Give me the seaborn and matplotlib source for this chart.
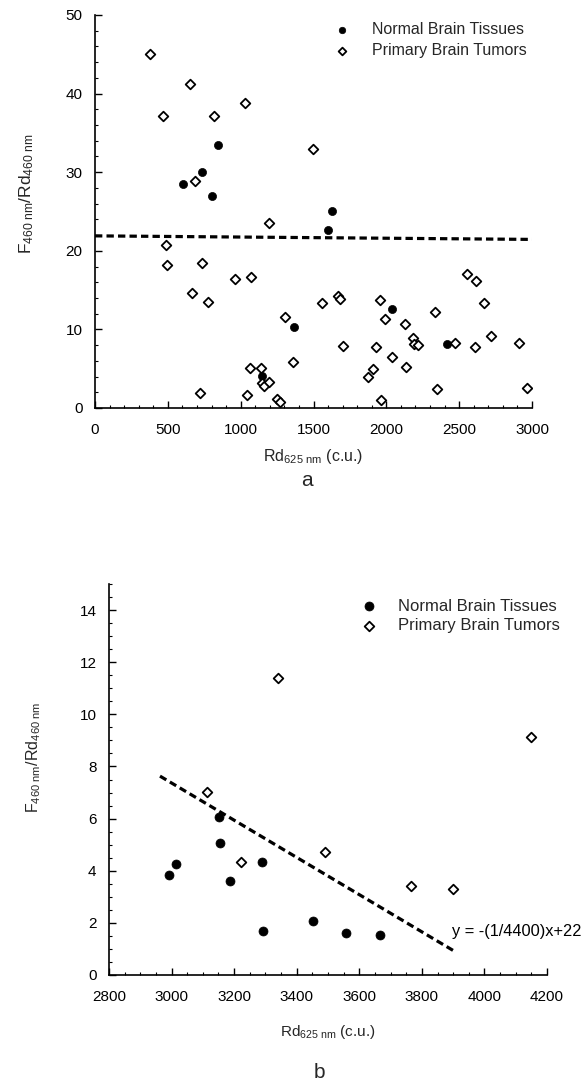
import numpy as np
import pandas as pd
import matplotlib
matplotlib.use("Agg")
import matplotlib.pyplot as plt
import seaborn as sns
from matplotlib.ticker import MultipleLocator

# ---------------- data: panel a ----------------
a_normal_x = [606, 732, 801, 847, 1148, 1364, 1597, 1624, 2038, 2418]
a_normal_y = [28.5, 30.0, 27.0, 33.5, 4.1, 10.3, 22.6, 25.1, 12.6, 8.1]

a_tumor_x = [377, 469, 485, 497, 652, 668, 686, 721, 737, 773, 817, 961, 1029,
             1041, 1066, 1071, 1137, 1148, 1160, 1196, 1192, 1247, 1270, 1304,
             1357, 1499, 1560, 1670, 1682, 1700, 1876, 1906, 1926, 1956, 1961,
             1990, 2038, 2126, 2137, 2185, 2192, 2215, 2336, 2347, 2468, 2551,
             2610, 2613, 2672, 2718, 2908, 2965]
a_tumor_y = [45.0, 37.2, 20.7, 18.2, 41.2, 14.6, 28.9, 1.9, 18.5, 13.5, 37.1,
             16.4, 38.8, 1.6, 5.1, 16.7, 5.1, 3.2, 2.8, 3.3, 23.6, 1.2, 0.8,
             11.6, 5.8, 32.9, 13.4, 14.2, 13.9, 7.9, 4.0, 5.0, 7.8, 13.7, 1.0,
             11.3, 6.5, 10.7, 5.2, 8.9, 8.2, 8.0, 12.2, 2.4, 8.3, 17.0, 7.8,
             16.2, 13.4, 9.1, 8.3, 2.6]

a_line_x = [0, 3000]
a_line_y = [21.9, 21.45]

# ---------------- data: panel b ----------------
b_normal_x = [2992, 3013, 3152, 3155, 3187, 3289, 3293, 3453, 3559, 3667]
b_normal_y = [3.84, 4.26, 6.08, 5.07, 3.60, 4.34, 1.68, 2.09, 1.60, 1.54]

b_tumor_x = [3114, 3221, 3340, 3492, 3764, 3900, 4150]
b_tumor_y = [7.01, 4.35, 11.38, 4.71, 3.43, 3.31, 9.14]

b_line_x = [2963, 3910]
b_line_y = [7.63, 0.87]

labels = ["Normal Brain Tissues", "Primary Brain Tumors"]
equation = "y = -(1/4400)x+22"
ylabel = r"$\mathregular{F_{460\ nm}/Rd_{460\ nm}}$"
xlabel = r"$\mathregular{Rd_{625\ nm}}$ (c.u.)"

# ---------------- style ----------------
sns.set_theme(style="white")
plt.rcParams["font.family"] = ["Liberation Sans", "DejaVu Sans"]
plt.rcParams["mathtext.fontset"] = "custom"
plt.rcParams["mathtext.rm"] = "Liberation Sans"
plt.rcParams["mathtext.it"] = "Liberation Sans:italic"
plt.rcParams["mathtext.bf"] = "Liberation Sans:bold"

fig = plt.figure(figsize=(5.84, 10.86), dpi=100)
W, H = 584, 1086
ax1 = fig.add_axes([95 / W, 1 - 408 / H, 437 / W, 393 / H])
ax2 = fig.add_axes([109 / W, 1 - 975 / H, 438 / W, 391 / H])


def draw(ax, nx, ny, tx, ty, lx, ly, s_norm, s_tum):
    dfn = pd.DataFrame({"x": nx, "y": ny})
    dft = pd.DataFrame({"x": tx, "y": ty})
    dfl = pd.DataFrame({"x": lx, "y": ly})
    sns.lineplot(data=dfl, x="x", y="y", ax=ax, color="black", linewidth=2.3,
                 dashes=False, zorder=1)
    ax.lines[-1].set_dashes([2.3, 1.3])
    sns.scatterplot(data=dfn, x="x", y="y", ax=ax, marker="o", s=s_norm,
                    color="black", edgecolor="black", linewidth=0.5,
                    label=labels[0], zorder=3)
    sns.scatterplot(data=dft, x="x", y="y", ax=ax, marker="D", s=s_tum,
                    color="white", edgecolor="black", linewidth=1.3,
                    label=labels[1], zorder=3)


draw(ax1, a_normal_x, a_normal_y, a_tumor_x, a_tumor_y, a_line_x, a_line_y, 34, 24)
draw(ax2, b_normal_x, b_normal_y, b_tumor_x, b_tumor_y, b_line_x, b_line_y, 42, 24)

ax1.set_xlim(0, 3000)
ax1.set_ylim(0, 50)
ax1.xaxis.set_major_locator(MultipleLocator(500))
ax1.xaxis.set_minor_locator(MultipleLocator(100))
ax1.yaxis.set_major_locator(MultipleLocator(10))
ax1.yaxis.set_minor_locator(MultipleLocator(2))

ax2.set_xlim(2800, 4200)
ax2.set_ylim(0, 15)
ax2.xaxis.set_major_locator(MultipleLocator(200))
ax2.xaxis.set_minor_locator(MultipleLocator(50))
ax2.yaxis.set_minor_locator(MultipleLocator(0.5))
ax2.set_yticks([0, 2, 4, 6, 8, 10, 12, 14])

for ax in (ax1, ax2):
    sns.despine(ax=ax)
    ax.set_xlabel("")
    ax.set_ylabel("")
    for sp in ("left", "bottom"):
        ax.spines[sp].set_linewidth(1.2)
        ax.spines[sp].set_color("black")
    ax.tick_params(which="major", direction="in", length=5, width=1.0,
                   colors="black", labelsize=11)
    ax.tick_params(which="minor", direction="in", length=2.5, width=0.8,
                   colors="black")
    ax.tick_params(axis="x", which="major", pad=11)
    ax.tick_params(axis="y", which="major", pad=9)
    ax.tick_params(which="both", bottom=True, left=True)

leg1 = ax1.legend(loc="upper left", bbox_to_anchor=(0.548, 0.982), frameon=False,
                  fontsize=11.5, handlelength=1.0, handletextpad=1.36,
                  labelspacing=0.38, borderpad=0, borderaxespad=0,
                  markerscale=0.8)
leg2 = ax2.legend(loc="upper left", bbox_to_anchor=(0.575, 0.962), frameon=False,
                  fontsize=12, handlelength=1.0, handletextpad=1.23,
                  labelspacing=0.25, borderpad=0, borderaxespad=0,
                  markerscale=1.0)

ax2.text(3897, 1.67, equation, fontsize=11.8, ha="left", va="center",
         color="black")

# axis labels and panel letters
fig.text(26.5 / W, 1 - 194 / H, ylabel, rotation=90, ha="center", va="center",
         fontsize=12.5)
fig.text(34 / W, 1 - 757 / H, ylabel, rotation=90, ha="center", va="center",
         fontsize=11.5)
fig.text(313 / W, 1 - 456 / H, xlabel, ha="center", va="center", fontsize=11.5)
fig.text(328 / W, 1 - 1032 / H, xlabel, ha="center", va="center", fontsize=11)
fig.text(307 / W, 1 - 481 / H, "a", ha="center", va="center", fontsize=15)
fig.text(319 / W, 1 - 1072 / H, "b", ha="center", va="center", fontsize=15)

fig.savefig("out.png", dpi=100, facecolor="white")
